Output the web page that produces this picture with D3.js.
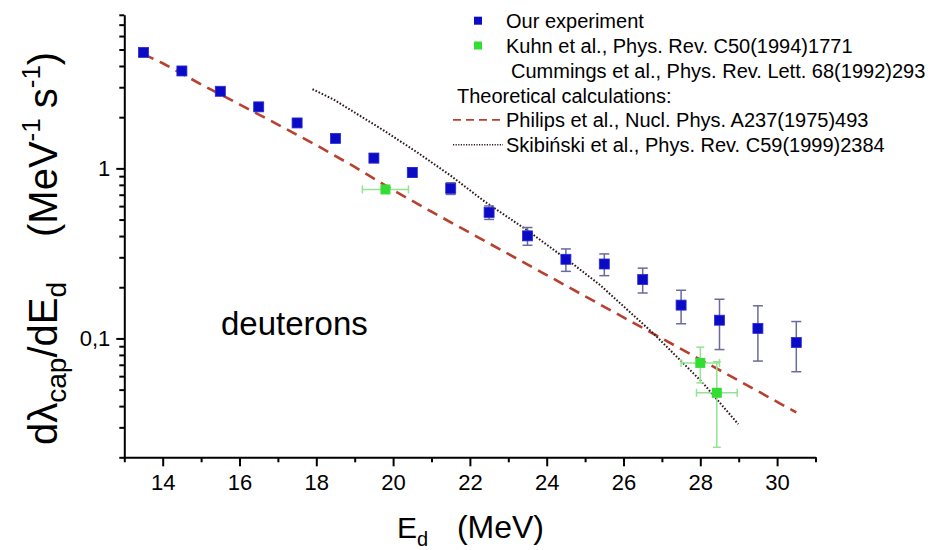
<!DOCTYPE html>
<html><head><meta charset="utf-8">
<script src="https://cdn.jsdelivr.net/npm/d3@7"></script>
<style>
body{margin:0;background:#fff}
text{font-family:"Liberation Sans",Arial,Helvetica,sans-serif;fill:#000}
</style>
</head><body>
<svg id="c" width="937" height="550"></svg>
<script>
// ---- data ----
const expE   = [13.5,14.5,15.5,16.5,17.5,18.5,19.5,20.5,21.5,22.5,23.5,24.5,25.5,26.5,27.5,28.5,29.5,30.5];
const expY   = [4.81,3.74,2.84,2.30,1.85,1.50,1.15,0.947,0.763,0.551,0.401,0.292,0.274,0.222,0.157,0.128,0.1146,0.0947];
const expErr = [0.25,0.18,0.13,0.10,0.08,0.07,0.07,0.06,0.06,0.05,0.048,0.044,0.040,0.037,0.035,0.042,0.041,0.031];

const kuhnE    = [19.8,28.0,28.43];
const kuhnY    = [0.752,0.0718,0.0479];
const kuhnXErr = [0.6,0.5,0.53];
const kuhnYErr = [0.03,0.017,0.025];

const philE = [13.5,14,15,16,17,18,19,20,21,22,23,24,25,26,27,28,29,30,30.5];
const philY = [4.7,4.15,3.12,2.38,1.81,1.37,1.02,0.745,0.556,0.418,0.314,0.236,0.177,0.133,0.100,0.0751,0.0565,0.0424,0.0367];

const skibE = [17.9,18.44,19.74,20.61,21.48,22.39,23.48,24.61,25.39,26.78,28.04,28.99];
const skibY = [2.92,2.55,1.68,1.25,0.913,0.637,0.434,0.282,0.206,0.107,0.0556,0.0313];

const xMajor = [14,16,18,20,22,24,26,28,30];
const xMinor = [13,15,17,19,21,23,25,27,29,31];
const yMajor = [0.1,1];
const yMajorLabels = ["0,1","1"];
const yMinor = [0.02,0.03,0.04,0.05,0.06,0.07,0.08,0.09,0.2,0.3,0.4,0.5,0.6,0.7,0.8,0.9,2,3,4,5,6,7,8];

const legendItems = [
  {type:"sq", color:"#0b0bc6", text:"Our experiment"},
  {type:"sq", color:"#33dd33", text:"Kuhn et al., Phys. Rev. C50(1994)1771"},
  {type:"none", text:"Cummings et al., Phys. Rev. Lett. 68(1992)293", indent:true},
  {type:"head", text:"Theoretical calculations:"},
  {type:"dash", text:"Philips et al., Nucl. Phys. A237(1975)493"},
  {type:"dot", text:"Skibiński et al., Phys. Rev. C59(1999)2384"}
];

// ---- scales ----
const svg = d3.select("#c");
const x = d3.scaleLinear().domain([13,31]).range([124.3,815.5]);
const y = d3.scaleLog().domain([0.02,8]).range([457.3,14.8]);

const BLUE = "#0b0bc6", GREEN = "#33dd33", BLUEERR = "#6a6a9c", GREENERR = "#93e393";
const DASH = "#b8402f", DOT = "#301818";

// ---- axes ----
const gx = svg.append("g").attr("transform",`translate(0,${y.range()[0]})`);
gx.call(d3.axisBottom(x).tickValues(xMinor).tickSize(5).tickFormat("").tickSizeOuter(0));
gx.append("g").call(d3.axisBottom(x).tickValues(xMajor).tickSize(9).tickFormat(d3.format("d")).tickSizeOuter(0));
gx.selectAll("path.domain").attr("stroke","#000").attr("stroke-width",2);
gx.selectAll(".tick line").attr("stroke","#000").attr("stroke-width",2);
gx.selectAll(".tick text").attr("y",33).attr("dy",null).attr("font-size",22).attr("fill","#000")
  .style("font-family",'"Liberation Sans",Arial,sans-serif');

const gy = svg.append("g").attr("transform",`translate(${x.range()[0]},0)`);
gy.call(d3.axisLeft(y).tickValues(yMinor).tickSize(5).tickFormat("").tickSizeOuter(0));
gy.append("g").call(d3.axisLeft(y).tickValues(yMajor).tickSize(8).tickPadding(6)
  .tickFormat((d,i)=>yMajorLabels[i]).tickSizeOuter(0));
gy.selectAll("path.domain").attr("stroke","#000").attr("stroke-width",2);
gy.selectAll(".tick line").attr("stroke","#000").attr("stroke-width",2);
gy.selectAll(".tick text").attr("font-size",22).attr("fill","#000")
  .style("font-family",'"Liberation Sans",Arial,sans-serif');
gx.selectAll("g g path.domain").remove();
gy.selectAll("g g path.domain").remove();

// ---- theory curves ----
const line = d3.line().x(d=>x(d[0])).y(d=>y(d[1]));
svg.append("path").datum(philE.map((e,i)=>[e,philY[i]]))
  .attr("d",line).attr("fill","none").attr("stroke",DASH).attr("stroke-width",2.6)
  .attr("stroke-dasharray","11,7");
svg.append("path").datum(skibE.map((e,i)=>[e,skibY[i]]))
  .attr("d",line).attr("fill","none").attr("stroke",DOT).attr("stroke-width",2)
  .attr("stroke-dasharray","1.6,1.8");

// ---- our experiment ----
const exp = expE.map((e,i)=>({e, v:expY[i], err:expErr[i]}));
const ge = svg.append("g").attr("stroke",BLUEERR).attr("stroke-width",1.5);
exp.forEach(d=>{
  const y1 = y(d.v+d.err), y0 = y(Math.max(d.v-d.err,1e-4)), cx = x(d.e);
  ge.append("line").attr("x1",cx).attr("x2",cx).attr("y1",y1).attr("y2",y0);
  ge.append("line").attr("x1",cx-5).attr("x2",cx+5).attr("y1",y1).attr("y2",y1);
  ge.append("line").attr("x1",cx-5).attr("x2",cx+5).attr("y1",y0).attr("y2",y0);
});
svg.append("g").selectAll("rect").data(exp).join("rect")
  .attr("x",d=>x(d.e)-5).attr("y",d=>y(d.v)-5).attr("width",10).attr("height",10)
  .attr("fill",BLUE).attr("stroke","#2a2ad8").attr("stroke-width",0.8);

// ---- Kuhn / Cummings ----
const ku = kuhnE.map((e,i)=>({e, v:kuhnY[i], xe:kuhnXErr[i], ye:kuhnYErr[i]}));
const gk = svg.append("g").attr("stroke",GREENERR).attr("stroke-width",1.5);
ku.forEach(d=>{
  const cx=x(d.e), cy=y(d.v), xl=x(d.e-d.xe), xr=x(d.e+d.xe), yt=y(d.v+d.ye), yb=y(d.v-d.ye);
  gk.append("line").attr("x1",xl).attr("x2",xr).attr("y1",cy).attr("y2",cy);
  gk.append("line").attr("x1",xl).attr("x2",xl).attr("y1",cy-4).attr("y2",cy+4);
  gk.append("line").attr("x1",xr).attr("x2",xr).attr("y1",cy-4).attr("y2",cy+4);
  gk.append("line").attr("x1",cx).attr("x2",cx).attr("y1",yt).attr("y2",yb);
  gk.append("line").attr("x1",cx-4).attr("x2",cx+4).attr("y1",yt).attr("y2",yt);
  gk.append("line").attr("x1",cx-4).attr("x2",cx+4).attr("y1",yb).attr("y2",yb);
});
svg.append("g").selectAll("rect").data(ku).join("rect")
  .attr("x",d=>x(d.e)-5).attr("y",d=>y(d.v)-5).attr("width",10).attr("height",10)
  .attr("fill",GREEN);

// ---- labels ----
svg.append("text").attr("x",221).attr("y",335).attr("font-size",33).text("deuterons");

const xMid = (x.range()[0]+x.range()[1])/2;
const xt = svg.append("text").attr("x",xMid-73).attr("y",538).attr("font-size",30);
xt.append("tspan").text("E");
xt.append("tspan").attr("font-size",20).attr("dy",8).text("d");
xt.append("tspan").attr("x",xMid-13).attr("dy",-8).attr("font-size",32).text("(MeV)");

const yt = svg.append("text").attr("transform","translate(57,445) rotate(-90)").attr("font-size",40);
yt.append("tspan").text("dλ");
yt.append("tspan").attr("font-size",28).attr("dy",9).text("cap");
yt.append("tspan").attr("font-size",40).attr("dy",-9).text("/dE");
yt.append("tspan").attr("font-size",28).attr("dy",9).text("d");
yt.append("tspan").attr("font-size",40).attr("dy",-9).attr("dx",45).text("(MeV");
yt.append("tspan").attr("font-size",26).attr("dy",-17).text("-1");
yt.append("tspan").attr("font-size",40).attr("dy",17).attr("dx",10).text("s");
yt.append("tspan").attr("font-size",26).attr("dy",-17).text("-1");
yt.append("tspan").attr("font-size",40).attr("dy",17).text(")");

// ---- legend ----
const lg = svg.append("g");
const rowY0 = 20.7, rowH = 24.8, symX = 478, txtX = 506;
legendItems.forEach((it,i)=>{
  const cy = rowY0 + i*rowH;
  if(it.type==="sq") lg.append("rect").attr("x",symX-4).attr("y",cy-4).attr("width",8).attr("height",8).attr("fill",it.color);
  if(it.type==="dash") lg.append("line").attr("x1",453).attr("x2",503).attr("y1",cy).attr("y2",cy)
      .attr("stroke",DASH).attr("stroke-width",1.8).attr("stroke-dasharray","8,5");
  if(it.type==="dot") lg.append("line").attr("x1",453).attr("x2",503).attr("y1",cy).attr("y2",cy)
      .attr("stroke",DOT).attr("stroke-width",1.4).attr("stroke-dasharray","1.2,1.4");
  const tx = it.type==="head" ? 457 : (it.indent ? 511 : txtX);
  lg.append("text").attr("x",tx).attr("y",cy+7.5).attr("font-size",20).text(it.text);
});
</script>
</body></html>
